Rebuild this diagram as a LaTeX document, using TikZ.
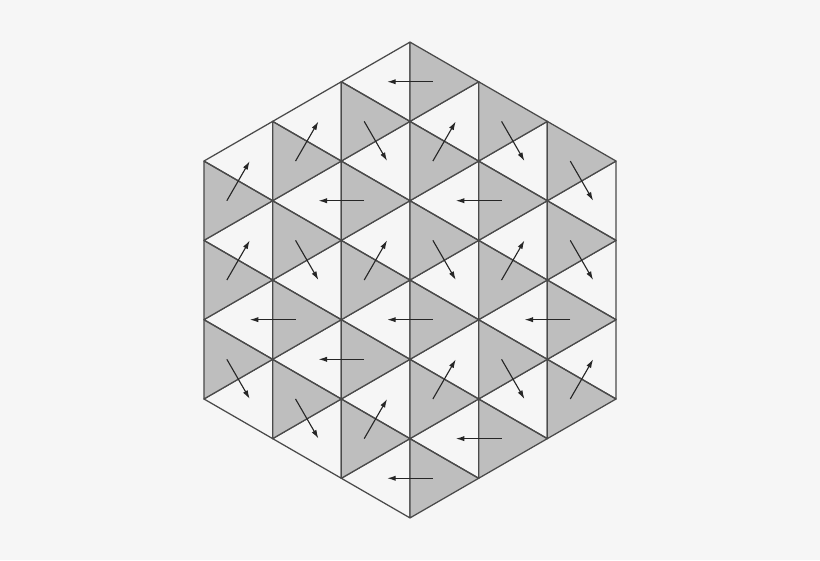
\documentclass[tikz,border=0pt]{standalone}
\usetikzlibrary{arrows.meta}

\definecolor{tilegray}{HTML}{BEBEBE}
\definecolor{backgr}{HTML}{F6F6F6}
\definecolor{edgegray}{HTML}{4A4A4A}

\newcommand{\trih}{0.8660254}

\tikzset{
    tile/.style={draw=edgegray, line width=0.45pt, line join=round},
    dimer/.style={draw=black!85, line width=0.4pt, -{Latex[length=3.1pt,width=1.9pt]}}
}

\begin{document}
\begin{tikzpicture}
    \fill [backgr] (-5.170,-3.531) rectangle (5.170,3.531);
    \useasboundingbox (-5.170,-3.531) rectangle (5.170,3.531);
    % triangles, strip by strip
    \foreach \c/\m in {0/3,1/4,2/5,3/5,4/4,5/3} {
        \foreach \j in {-\m,...,\m} {
            \pgfmathtruncatemacro{\r}{\j+5}
            \pgfmathtruncatemacro{\odd}{mod(\c+\j+10,2)}
            \ifnum\odd=0
                \path [tile, fill=tilegray] ({(\c-3)*\trih},{(\j-1)/2}) -- ({(\c-3)*\trih},{(\j+1)/2}) -- ({(\c-2)*\trih},{\j/2}) -- cycle;
                \coordinate (t-\c-\r) at ({(\c-3+1/3)*\trih},{\j/2});
            \else
                \path [tile] ({(\c-2)*\trih},{(\j-1)/2}) -- ({(\c-2)*\trih},{(\j+1)/2}) -- ({(\c-3)*\trih},{\j/2}) -- cycle;
                \coordinate (t-\c-\r) at ({(\c-3+2/3)*\trih},{\j/2});
            \fi
        }
    }
    % arrows
    \path [dimer] (t-0-7) -- (t-0-8);
    \path [dimer] (t-0-5) -- (t-0-6);
    \path [dimer] (t-0-3) -- (t-0-2);
    \path [dimer] (t-1-8) -- (t-1-9);
    \path [dimer] (t-1-6) -- (t-1-5);
    \path [dimer] (t-1-4) -- (t-0-4);
    \path [dimer] (t-1-2) -- (t-1-1);
    \path [dimer] (t-2-9) -- (t-2-8);
    \path [dimer] (t-2-7) -- (t-1-7);
    \path [dimer] (t-2-5) -- (t-2-6);
    \path [dimer] (t-2-3) -- (t-1-3);
    \path [dimer] (t-2-1) -- (t-2-2);
    \path [dimer] (t-3-10) -- (t-2-10);
    \path [dimer] (t-3-8) -- (t-3-9);
    \path [dimer] (t-3-6) -- (t-3-5);
    \path [dimer] (t-3-4) -- (t-2-4);
    \path [dimer] (t-3-2) -- (t-3-3);
    \path [dimer] (t-3-0) -- (t-2-0);
    \path [dimer] (t-4-9) -- (t-4-8);
    \path [dimer] (t-4-7) -- (t-3-7);
    \path [dimer] (t-4-5) -- (t-4-6);
    \path [dimer] (t-4-3) -- (t-4-2);
    \path [dimer] (t-4-1) -- (t-3-1);
    \path [dimer] (t-5-8) -- (t-5-7);
    \path [dimer] (t-5-6) -- (t-5-5);
    \path [dimer] (t-5-4) -- (t-4-4);
    \path [dimer] (t-5-2) -- (t-5-3);
\end{tikzpicture}
\end{document}
